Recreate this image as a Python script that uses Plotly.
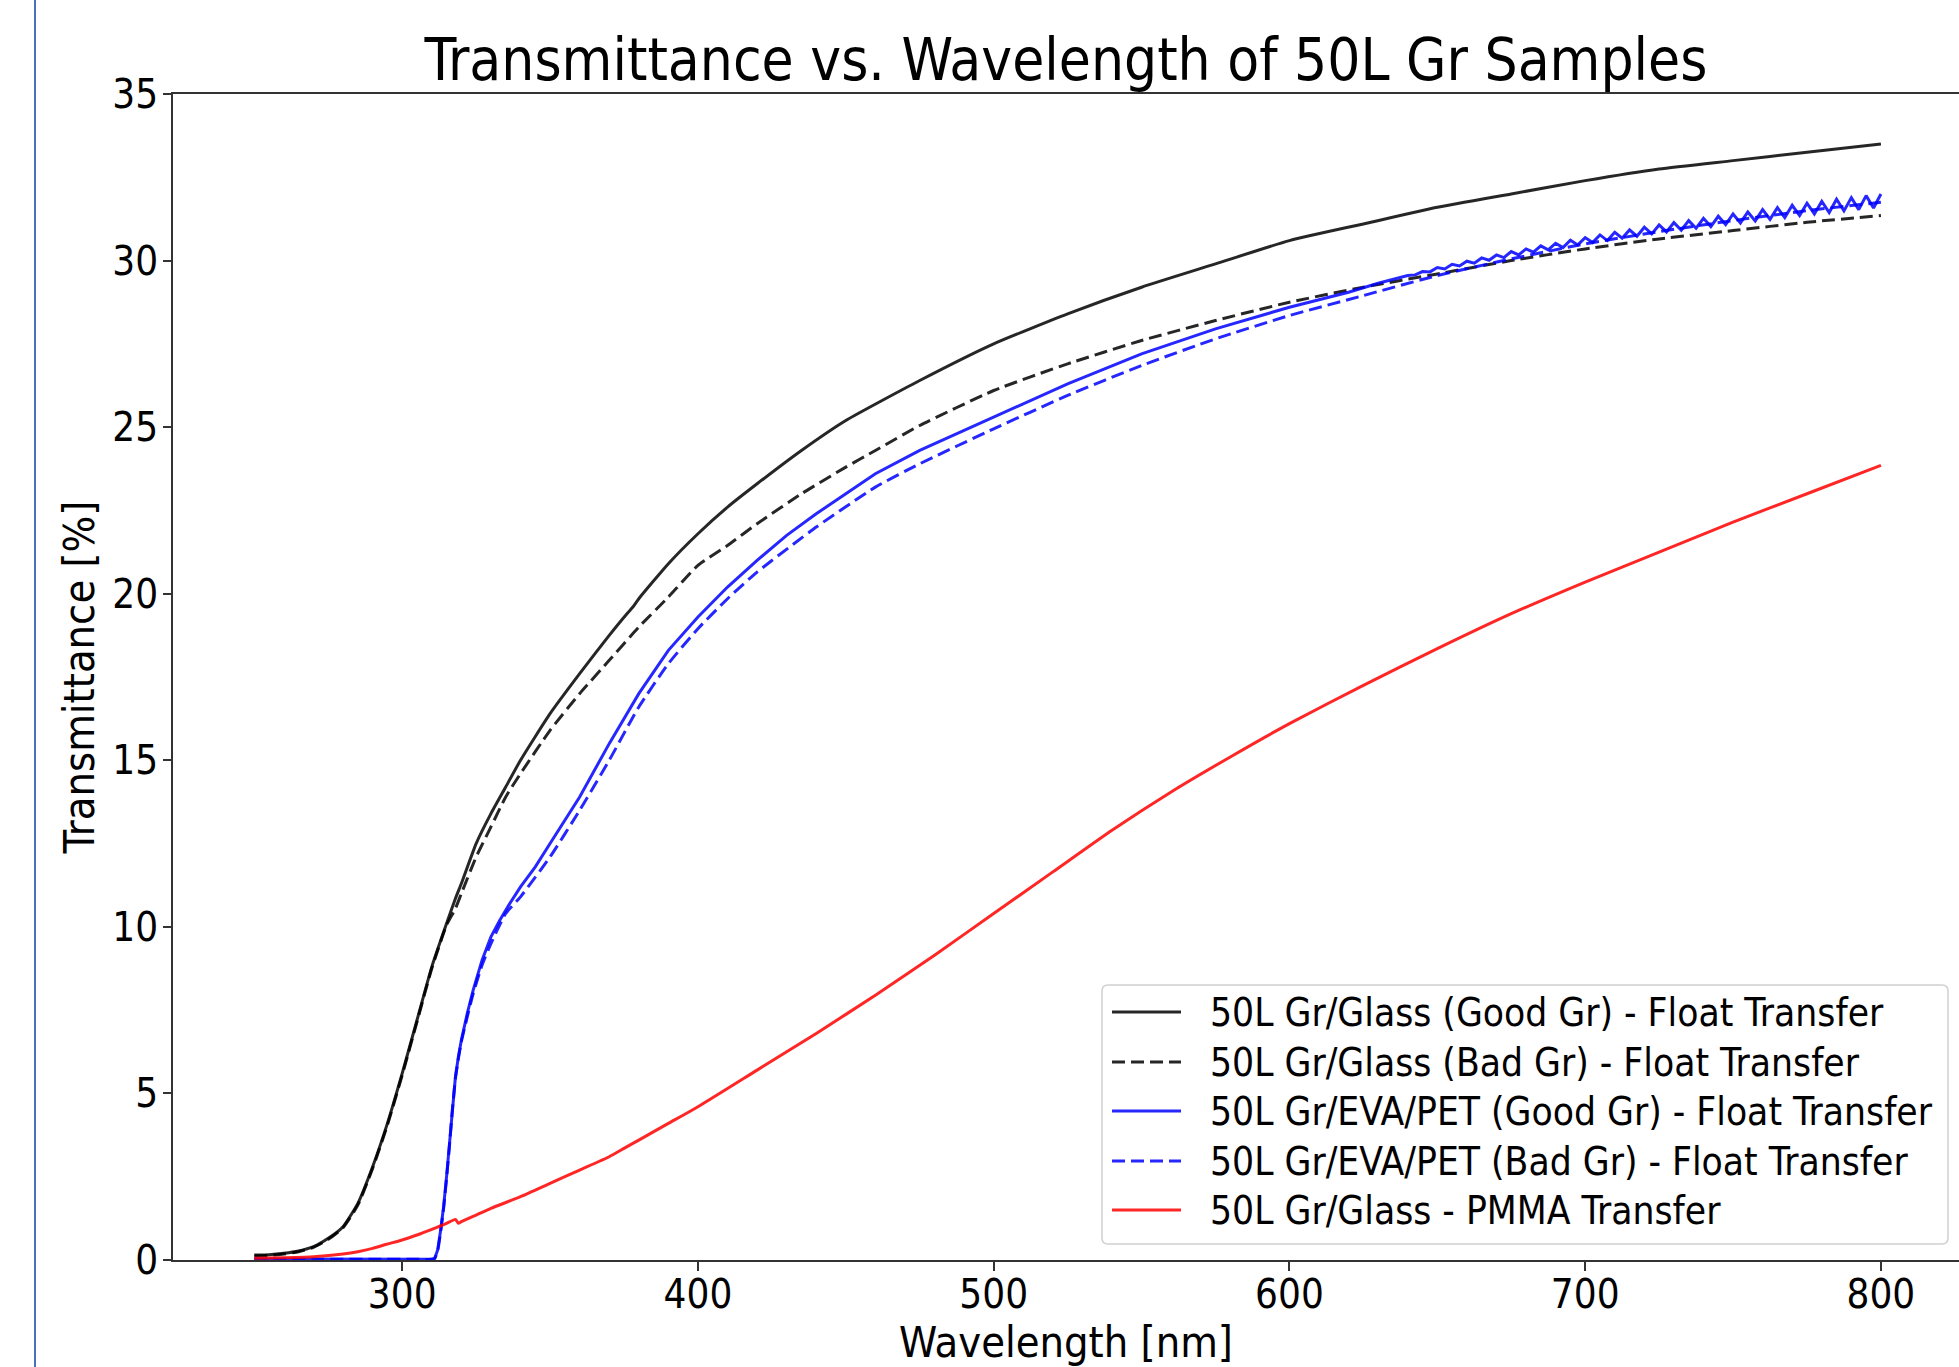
import plotly.graph_objects as go

# ---- 50L Gr/Glass (Good Gr) - Float Transfer ----
wl_glass_good = [250, 255, 260, 265, 270, 275, 280, 285, 290, 295, 300, 305, 310, 315, 318,
                 320, 325, 330, 335, 340, 350, 360, 370, 376, 378, 380, 390, 400, 410, 420,
                 435, 450, 475, 500, 525, 550, 575, 600, 625, 650, 675, 700, 725, 750, 775, 800]
t_glass_good = [0.15, 0.16, 0.2, 0.27, 0.4, 0.65, 1.0, 1.7, 2.8, 4.1, 5.6, 7.2, 8.8, 10.1, 10.85,
                11.3, 12.5, 13.4, 14.2, 15.0, 16.4, 17.6, 18.75, 19.4, 19.6, 19.85, 20.9, 21.8, 22.6, 23.3,
                24.3, 25.2, 26.4, 27.5, 28.4, 29.2, 29.9, 30.6, 31.1, 31.6, 32.0, 32.4, 32.75, 33.0, 33.25, 33.5]

# ---- 50L Gr/Glass (Bad Gr) - Float Transfer ----
wl_glass_bad = [250, 255, 260, 265, 270, 275, 280, 285, 290, 295, 300, 305, 310, 315, 318,
                320, 325, 330, 335, 340, 350, 360, 370, 380, 390, 400, 410, 420, 435, 450,
                460, 475, 500, 525, 550, 575, 600, 625, 650, 675, 700, 725, 750, 775, 800]
t_glass_bad = [0.12, 0.14, 0.18, 0.25, 0.38, 0.62, 0.97, 1.65, 2.75, 4.05, 5.55, 7.15, 8.75, 10.05, 10.55,
               11.0, 12.1, 13.0, 13.9, 14.6, 15.9, 17.0, 18.0, 19.0, 19.9, 20.85, 21.45, 22.1, 23.0, 23.8,
               24.3, 25.05, 26.1, 26.9, 27.6, 28.2, 28.75, 29.2, 29.6, 30.0, 30.35, 30.65, 30.9, 31.15, 31.35]

# ---- 50L Gr/EVA/PET (Good Gr) - Float Transfer ----
wl_pet_good = [250, 270, 290, 305, 310, 311, 312, 313, 314, 315, 316, 317, 318, 319, 320,
               322, 324, 327, 330, 333, 336, 340, 345, 350, 360, 370, 380, 390, 400, 410,
               420, 430, 440, 450, 460, 475, 500, 525, 550, 575, 600, 620, 630,
               640, 642.5, 645, 647.5, 650, 652.5, 655, 657.5, 660, 662.5, 665, 667.5,
               670, 672.5, 675, 677.5, 680, 682.5, 685, 687.5, 690, 692.5, 695, 697.5,
               700, 702.5, 705, 707.5, 710, 712.5, 715, 717.5, 720, 722.5, 725, 727.5,
               730, 732.5, 735, 737.5, 740, 742.5, 745, 747.5, 750, 752.5, 755, 757.5,
               760, 762.5, 765, 767.5, 770, 772.5, 775, 777.5, 780, 782.5, 785, 787.5,
               790, 792.5, 795, 797.5, 800]
t_pet_good = [0.03, 0.02, 0.02, 0.02, 0.02, 0.05, 0.3, 0.9, 1.6, 2.5, 3.5, 4.6, 5.5, 6.1, 6.6,
              7.4, 8.1, 9.0, 9.7, 10.2, 10.65, 11.2, 11.8, 12.5, 13.9, 15.5, 17.0, 18.3, 19.3, 20.2,
              21.0, 21.75, 22.4, 23.0, 23.6, 24.3, 25.3, 26.3, 27.2, 27.95, 28.6, 29.05, 29.32,
              29.55, 29.57, 29.67, 29.66, 29.79, 29.75, 29.89, 29.84, 29.98, 29.92, 30.08, 30.01,
              30.17, 30.09, 30.27, 30.17, 30.35, 30.25, 30.44, 30.32, 30.52, 30.39, 30.61, 30.47,
              30.69, 30.54, 30.77, 30.60, 30.85, 30.67, 30.92, 30.73, 31.00, 30.80, 31.07, 30.86,
              31.14, 30.91, 31.20, 30.97, 31.27, 31.02, 31.33, 31.08, 31.40, 31.13, 31.46, 31.19,
              31.53, 31.24, 31.59, 31.29, 31.66, 31.35, 31.72, 31.40, 31.78, 31.44, 31.84, 31.49,
              31.89, 31.53, 31.95, 31.58, 32.0]

# ---- 50L Gr/EVA/PET (Bad Gr) - Float Transfer ----
wl_pet_bad = [250, 270, 290, 305, 310, 311, 312, 313, 314, 315, 316, 317, 318, 319, 320,
              322, 324, 327, 330, 335, 340, 350, 360, 370, 380, 390, 400, 410, 420, 440,
              460, 475, 500, 525, 550, 575, 600, 625, 650, 675, 700, 725, 750, 775, 800]
t_pet_bad = [0.02, 0.02, 0.02, 0.02, 0.02, 0.05, 0.28, 0.85, 1.55, 2.45, 3.45, 4.55, 5.45, 6.05, 6.55,
             7.3, 8.0, 8.85, 9.5, 10.4, 10.9, 12.1, 13.5, 15.0, 16.6, 17.9, 18.95, 19.85, 20.65, 22.0,
             23.2, 23.9, 24.95, 25.95, 26.85, 27.65, 28.35, 28.95, 29.55, 30.05, 30.5, 30.87, 31.2, 31.5, 31.75]

# ---- 50L Gr/Glass - PMMA Transfer ----
wl_pmma = [250, 260, 270, 280, 285, 290, 295, 300, 305, 310, 315, 318, 319, 320, 325,
           330, 340, 350, 360, 370, 375, 380, 390, 400, 420, 440, 460, 480, 500, 520,
           540, 560, 580, 600, 625, 650, 675, 700, 725, 750, 775, 800]
t_pmma = [0.05, 0.07, 0.1, 0.18, 0.25, 0.35, 0.48, 0.6, 0.75, 0.92, 1.1, 1.22, 1.1, 1.15, 1.35,
          1.55, 1.9, 2.3, 2.7, 3.1, 3.35, 3.6, 4.1, 4.6, 5.7, 6.8, 7.95, 9.15, 10.4, 11.65,
          12.9, 14.05, 15.1, 16.1, 17.25, 18.35, 19.4, 20.35, 21.25, 22.15, 23.0, 23.85]

series_names = [
    "50L Gr/Glass (Good Gr) - Float Transfer",
    "50L Gr/Glass (Bad Gr) - Float Transfer",
    "50L Gr/EVA/PET (Good Gr) - Float Transfer",
    "50L Gr/EVA/PET (Bad Gr) - Float Transfer",
    "50L Gr/Glass - PMMA Transfer",
]

x_ticks = [300, 400, 500, 600, 700, 800]
y_ticks = [0, 5, 10, 15, 20, 25, 30, 35]

FONT = "DejaVu Sans Condensed, DejaVu Sans, sans-serif"
BLACK = "rgba(0,0,0,0.85)"
BLUE = "rgba(0,0,255,0.85)"
RED = "rgba(255,0,0,0.85)"
DASH = "13px,6px"
LW = 3

# figure / plot-area geometry in pixels
W, H = 1959, 1367
ML, MR, MT, MB = 173, 0, 94, 107
PW, PH = W - ML - MR, H - MT - MB


def px_x(px):
    return (px - ML) / PW


def px_y(py):
    return (H - MB - py) / PH


fig = go.Figure()
# (x, y, colour, dash, line shape) per series; the rippled EVA/PET curve stays linear
styles = [
    (wl_glass_good, t_glass_good, BLACK, "solid", "spline"),
    (wl_glass_bad, t_glass_bad, BLACK, DASH, "spline"),
    (wl_pet_good, t_pet_good, BLUE, "solid", "linear"),
    (wl_pet_bad, t_pet_bad, BLUE, DASH, "spline"),
    (wl_pmma, t_pmma, RED, "solid", "spline"),
]
for (xs, ys, col, dash, shape), name in zip(styles, series_names):
    line = dict(color=col, width=LW, dash=dash, shape=shape)
    if shape == "spline":
        line["smoothing"] = 0.5
    fig.add_trace(go.Scatter(x=xs, y=ys, mode="lines", name=name, showlegend=False, line=line))

shapes = []
annotations = []

# thin page border line at the far left
shapes.append(dict(type="line", xref="paper", yref="paper",
                   x0=px_x(35), x1=px_x(35), y0=-0.2, y1=1.2,
                   line=dict(color="#4a6fbf", width=2)))

# legend box (rounded frame) with line samples and labels
bx0, bx1, by0, by1, r = 1102, 1948, 985, 1244, 6
path = (f"M {px_x(bx0 + r)},{px_y(by0)} L {px_x(bx1 - r)},{px_y(by0)} "
        f"Q {px_x(bx1)},{px_y(by0)} {px_x(bx1)},{px_y(by0 + r)} "
        f"L {px_x(bx1)},{px_y(by1 - r)} Q {px_x(bx1)},{px_y(by1)} {px_x(bx1 - r)},{px_y(by1)} "
        f"L {px_x(bx0 + r)},{px_y(by1)} Q {px_x(bx0)},{px_y(by1)} {px_x(bx0)},{px_y(by1 - r)} "
        f"L {px_x(bx0)},{px_y(by0 + r)} Q {px_x(bx0)},{px_y(by0)} {px_x(bx0 + r)},{px_y(by0)} Z")
shapes.append(dict(type="path", xref="paper", yref="paper", path=path,
                   fillcolor="rgba(255,255,255,0.8)", line=dict(color="#d0d0d0", width=1.5),
                   layer="above"))
row_y = [1012, 1062, 1111, 1161, 1210]
for (xs, ys, col, dash, shape), name, ry in zip(styles, series_names, row_y):
    shapes.append(dict(type="line", xref="paper", yref="paper",
                       x0=px_x(1112), x1=px_x(1181), y0=px_y(ry), y1=px_y(ry),
                       line=dict(color=col, width=LW, dash=dash), layer="above"))
    annotations.append(dict(xref="paper", yref="paper", x=px_x(1208), y=px_y(ry),
                            xanchor="left", yanchor="middle", text=name, showarrow=False,
                            font=dict(size=38.6, family=FONT, color="black")))

fig.update_layout(
    width=W, height=H,
    margin=dict(l=ML, r=MR, t=MT, b=MB),
    paper_bgcolor="white", plot_bgcolor="white",
    font=dict(family=FONT, color="black"),
    title=dict(text="Transmittance vs. Wavelength of 50L Gr Samples",
               font=dict(size=58, family=FONT, color="black"),
               x=0.5, xref="paper", xanchor="center",
               y=1 - 80 / H, yref="container", yanchor="bottom"),
    showlegend=False,
    shapes=shapes,
    annotations=annotations,
)

fig.update_xaxes(range=[222.5, 826.4], tickvals=x_ticks, ticks="outside", ticklen=9,
                 tickwidth=1.5, tickcolor="#333", showline=True, linecolor="#333",
                 linewidth=1.8, mirror=True, showgrid=False, zeroline=False,
                 ticklabelstandoff=-11,
                 tickfont=dict(size=40, family=FONT, color="black"),
                 title=dict(text="Wavelength [nm]", font=dict(size=43, family=FONT, color="black"),
                            standoff=4))
fig.update_yaxes(range=[0, 35], tickvals=y_ticks, ticks="outside", ticklen=8,
                 tickwidth=1.5, tickcolor="#333", showline=True, linecolor="#333",
                 linewidth=1.8, mirror=False, showgrid=False, zeroline=False,
                 ticklabelstandoff=-3,
                 tickfont=dict(size=40, family=FONT, color="black"),
                 title=dict(text="Transmittance [%]", font=dict(size=43, family=FONT, color="black"),
                            standoff=4))

fig.write_html("out.html")
